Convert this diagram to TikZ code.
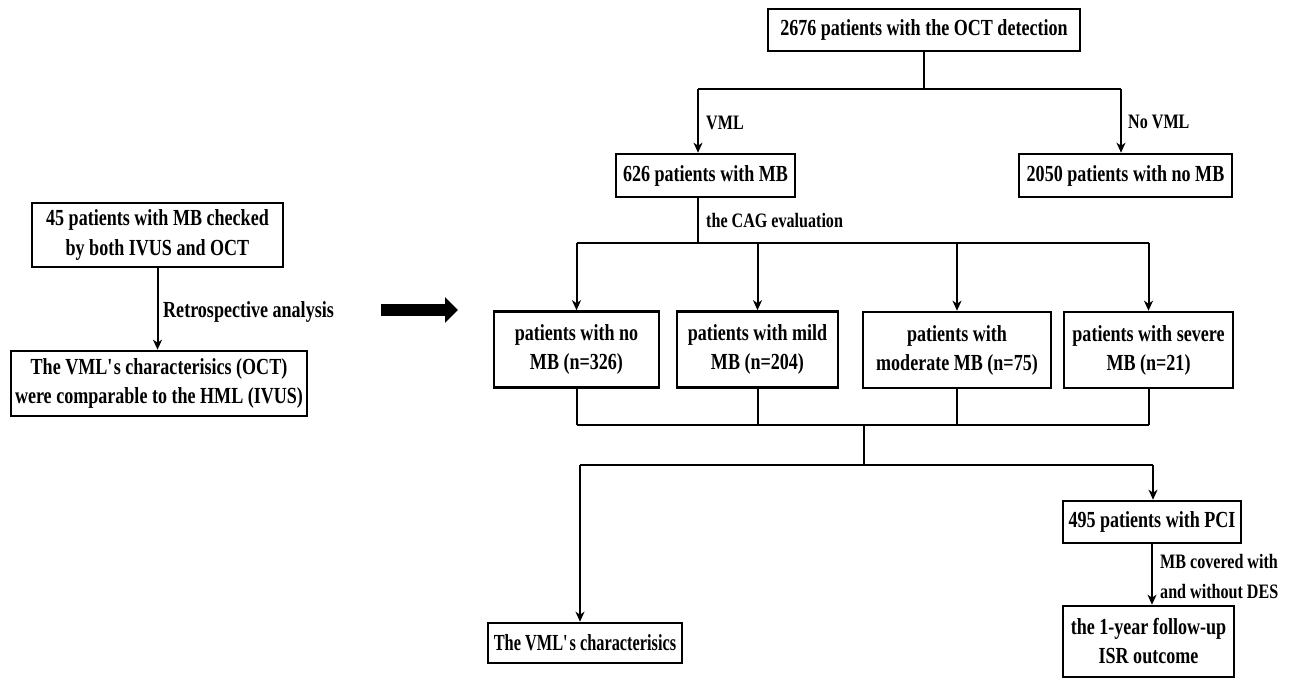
\documentclass[tikz,border=0pt]{standalone}
\usepackage{fontspec}
\setmainfont{Liberation Serif}[FakeStretch=0.785]
\newfontfamily\tightserif{Liberation Serif}[FakeStretch=0.71]
\usetikzlibrary{arrows.meta}

\begin{document}
\begin{tikzpicture}[x=1pt,y=-1pt,
  stage/.style={draw=black,line width=2.6pt,inner sep=0pt,align=center,
    font=\fontsize{23}{29}\selectfont\bfseries},
  link/.style={line width=2pt,draw=black},
  flow/.style={link,-{Stealth[length=10pt,width=9pt,inset=3pt]}},
  note/.style={anchor=west,inner sep=0pt,align=left,font=\fontsize{20.5}{30}\selectfont\bfseries}
]
\fill[white] (0,0) rectangle (1299,680);
\useasboundingbox (0,0) rectangle (1299,680);
\node[stage,minimum width=251pt,minimum height=64pt] (ivus) at (157.5,235) {45 patients with MB checked\\by both IVUS and OCT};
\node[stage,minimum width=296pt,minimum height=65pt] (compare) at (159,383.5) {The VML\textquotesingle s characterisics (OCT)\\were comparable to the HML (IVUS)};
\node[stage,minimum width=312pt,minimum height=42pt] (oct) at (924,30) {2676 patients with the OCT detection};
\node[stage,minimum width=179pt,minimum height=43pt] (mb) at (705.5,175.5) {626 patients with MB};
\node[stage,minimum width=213pt,minimum height=43pt] (nomb) at (1125.5,175.5) {2050 patients with no MB};
\node[stage,minimum width=165pt,minimum height=76pt] (none) at (576.5,349.5) {patients with no\\MB (n=326)};
\node[stage,minimum width=161pt,minimum height=76pt] (mild) at (757.5,349.5) {patients with mild\\MB (n=204)};
\node[stage,minimum width=188pt,minimum height=76pt] (moderate) at (957,350) {patients with\\moderate MB (n=75)};
\node[stage,minimum width=169pt,minimum height=76pt] (severe) at (1148.5,350) {patients with severe\\MB (n=21)};
\node[stage,minimum width=194pt,minimum height=40pt,font=\fontsize{23}{29}\tightserif\bfseries] (chars) at (585,643) {The VML\textquotesingle s characterisics};
\node[stage,minimum width=178pt,minimum height=42pt] (pci) at (1152,522) {495 patients with PCI};
\node[stage,minimum width=171pt,minimum height=71pt] (follow) at (1148.5,641.5) {the 1-year follow-up\\ISR outcome};

\coordinate (vmlL) at (698,89);
\coordinate (vmlR) at (1121,89);
\coordinate (cag) at (698,243);
\coordinate (cagL) at (576.5,243);
\coordinate (cagR) at (1148.5,243);
\coordinate (joinL) at (576.5,425);
\coordinate (joinR) at (1148.5,425);
\coordinate (mid) at (864,425);
\coordinate (splitL) at (580,465);
\coordinate (splitR) at (1153,465);
\coordinate (bigL) at (381,310);
\coordinate (bigR) at (458,310);

\draw[link] (oct) -- (oct |- vmlL);
\draw[link] (vmlL) -- (vmlR);
\draw[flow] (vmlL) -- (vmlL |- mb.north);
\draw[flow] (vmlR) -- (vmlR |- nomb.north);
\node[note] (vmlnote) at (706,123) {VML};
\node[note] (novmlnote) at (1128,122) {No VML};

\draw[link] (cag |- mb.south) -- (cag);
\node[note] (cagnote) at (706,221) {the CAG evaluation};
\draw[link] (cagL) -- (cagR);
\foreach \b in {none,mild,moderate,severe}
  \draw[flow] (cagL -| \b) -- (\b);
\foreach \b in {none,mild,moderate,severe}
  \draw[link] (\b) -- (\b |- joinL);
\draw[link] (joinL) -- (joinR);
\draw[link] (mid) -- (mid |- splitL);
\draw[link] (splitL) -- (splitR);
\draw[flow] (splitL) -- (splitL |- chars.north);
\draw[flow] (splitR) -- (splitR |- pci.north);
\draw[flow] (pci) -- (pci |- follow.north);
\node[note] (desnote) at (1160,577) {MB covered with\\and without DES};

\draw[flow] (ivus) -- (ivus |- compare.north);
\node[note,font=\fontsize{23}{29}\selectfont\bfseries] (retro) at (163,312) {Retrospective analysis};
\draw[line width=12pt,-{Triangle[length=13pt,width=25pt]}] (bigL) -- (bigR);
\end{tikzpicture}
\end{document}
